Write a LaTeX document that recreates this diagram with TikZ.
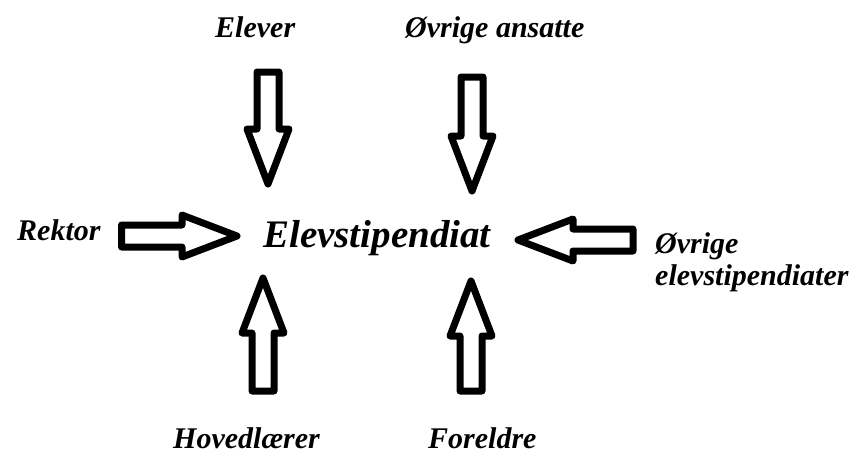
\documentclass[tikz,border=0pt]{standalone}
\usepackage{fontspec}
\setmainfont{Liberation Serif}
\usetikzlibrary{calc}
\tikzset{
  lbl/.style={inner sep=0pt, anchor=base west, font=\fontsize{30}{32}\selectfont\bfseries\itshape},
  center/.style={inner sep=0pt, anchor=base west, font=\fontsize{39}{41}\selectfont\bfseries\itshape},
  blockarr/.style={draw=black, fill=white, line width=7pt, line join=round}
}
\newcommand\blockarrow[2]{%
  \path ($(#2)!55pt!(#1)$) coordinate (hb);
  \draw[blockarr]
    ($(#1)!11pt!90:(#2)$) -- ($(hb)!11pt!90:(#2)$) -- ($(hb)!21pt!90:(#2)$)
    -- (#2) -- ($(hb)!21pt!-90:(#2)$) -- ($(hb)!11pt!-90:(#2)$)
    -- ($(#1)!11pt!-90:(#2)$) -- cycle;
}
\begin{document}
\begin{tikzpicture}[x=1pt,y=-1pt]
\useasboundingbox[fill=white] (0,0) rectangle (867,453);
% labels
\node[lbl] (elever) at (215,37) {Elever};
\node[lbl] (ansatte) at (405,37) {Øvrige ansatte};
\node[lbl] (rektor) at (17,240) {Rektor};
\node[lbl] (ovrige) at (655,253) {Øvrige};
\node[lbl] (elevst) at (655,285) {elevstipendiater};
\node[lbl] (hoved) at (173,448) {Hovedlærer};
\node[lbl] (foreldre) at (428,448) {Foreldre};
\node[center] (mid) at (263,247) {Elevstipendiat};
% arrow end points
\coordinate (a1s) at (268,72);  \coordinate (a1t) at (268,184);
\coordinate (a2s) at (472,77);  \coordinate (a2t) at (472,191);
\coordinate (a3s) at (121.5,236); \coordinate (a3t) at (237,236);
\coordinate (a4s) at (633,240); \coordinate (a4t) at (518,240);
\coordinate (a5s) at (263,391); \coordinate (a5t) at (263,278);
\coordinate (a6s) at (471,391); \coordinate (a6t) at (471,281);
\blockarrow{a1s}{a1t}
\blockarrow{a2s}{a2t}
\blockarrow{a3s}{a3t}
\blockarrow{a4s}{a4t}
\blockarrow{a5s}{a5t}
\blockarrow{a6s}{a6t}
\end{tikzpicture}
\end{document}
